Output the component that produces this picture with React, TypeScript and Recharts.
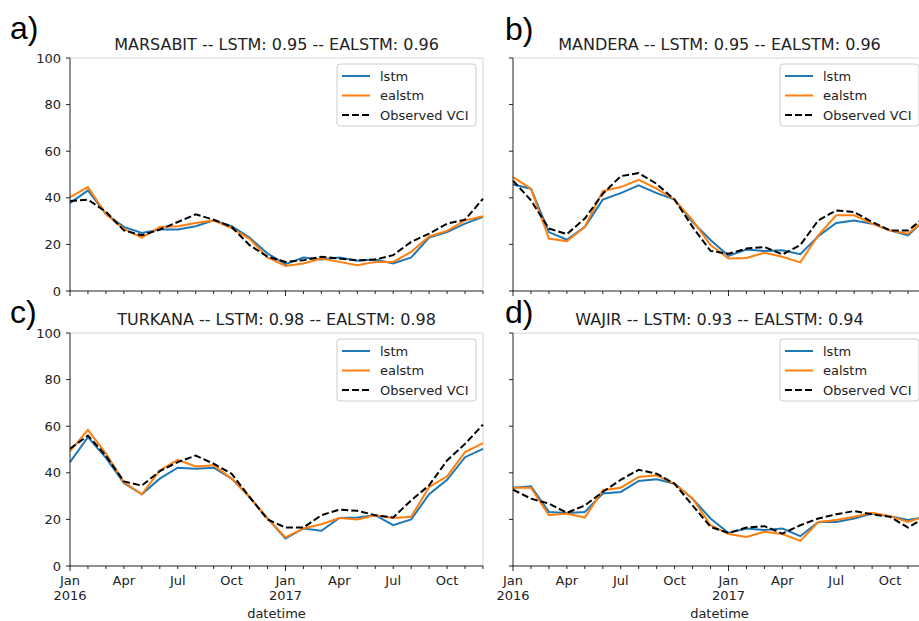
import { LineChart, Line, XAxis, YAxis, ReferenceLine } from 'recharts';

const MONTHS = ['Jan', 'Feb', 'Mar', 'Apr', 'May', 'Jun', 'Jul', 'Aug', 'Sep', 'Oct', 'Nov', 'Dec'];
const YEARS = [2016, 2017];
const QUARTER_MONTHS = ['Jan', 'Apr', 'Jul', 'Oct'];
const Y_TICKS = [0, 20, 40, 60, 80, 100];

const DATES = YEARS.flatMap((year, yi) =>
  MONTHS.map((month, mi) => ({ idx: yi * 12 + mi, month, year }))
);

// MARSABIT
const marsabitLstm = [37.7, 43.2, 33, 27.5, 24.9, 26.4, 26.4, 27.8, 30.3, 27.8, 22.9, 16.1, 11.5, 14.4, 13.5, 14.4, 13.0, 13.5, 11.8, 14.4, 22.9, 25.3, 28.9, 31.8];
const marsabitEalstm = [40.3, 44.6, 33, 26.6, 22.9, 27.5, 27.8, 29.2, 30.3, 27, 22.4, 14.4, 10.7, 11.8, 13.9, 12.5, 11.1, 12.5, 12.5, 16.8, 23.4, 25.8, 30.3, 32.1];
const marsabitObs = [38.6, 39.2, 34, 26, 23.9, 26.4, 29.6, 32.9, 30.6, 27.5, 19.7, 14.7, 12.5, 13.2, 14.7, 13.9, 13.2, 13.5, 15.4, 21.1, 24.6, 28.9, 30.6, 39.6];

// MANDERA
const manderaLstm = [45.7, 43.9, 25.3, 22, 27.5, 39.2, 42, 45.3, 42, 39.2, 29.6, 21.9, 15.1, 17.8, 17.2, 17.5, 15.8, 23.5, 29.2, 30.3, 28.9, 26, 23.9, 31];
const manderaEalstm = [48.9, 43.9, 22.5, 21.4, 27.5, 42.9, 44.6, 47.7, 43.9, 39.2, 30.3, 19.7, 14, 14.2, 16.4, 14.7, 12.3, 23.9, 32.5, 32.5, 28.9, 26, 24.6, 31];
const manderaObs = [47.4, 38.9, 26.8, 24.4, 31.1, 41.7, 49.3, 50.6, 46, 39.2, 27.5, 17.2, 16, 18.2, 18.9, 15.7, 19.7, 30.3, 34.6, 33.9, 29.6, 26, 26, 32];

// TURKANA
const turkanaLstm = [44.6, 55.3, 46.4, 35.6, 30.8, 37.5, 42.2, 41.7, 42.2, 37.5, 29.6, 20.4, 11.8, 16.1, 15.1, 20.6, 20.8, 21.8, 17.5, 20, 30.8, 37, 46.7, 50.3];
const turkanaEalstm = [49.3, 58.4, 48.2, 36, 30.8, 41, 45.6, 42.7, 43.2, 37.5, 29.6, 20.4, 12.3, 16.1, 17.9, 20.6, 20, 21.8, 20.6, 21.1, 33.9, 38.5, 48.9, 52.7];
const turkanaObs = [50.3, 56, 47.3, 36.3, 34.5, 40.7, 44.6, 47.4, 43.9, 39.6, 29.6, 20, 16.5, 16.5, 21.8, 24.2, 23.7, 21.8, 20.8, 28.2, 34.6, 45.3, 52.4, 60.7];

// WAJIR
const wajirLstm = [33.6, 34.2, 23.2, 22.8, 23.2, 31.1, 31.8, 36.5, 37.2, 35.3, 28.9, 20.4, 14.2, 16.1, 15.4, 16.1, 12.8, 18.9, 18.9, 20.4, 22.5, 21.4, 19.7, 21];
const wajirEalstm = [33.6, 33.6, 21.8, 22.5, 20.8, 32.5, 33.6, 38.2, 38.9, 35.3, 28.9, 17.5, 13.7, 12.5, 14.7, 13.7, 10.8, 18.9, 19.7, 21.1, 22.8, 21.4, 18.9, 21.5];
const wajirObs = [32.8, 28.9, 26.8, 22.8, 26, 31.8, 37, 41.3, 39.6, 35.3, 26, 16.8, 14.2, 16.5, 17.1, 13.9, 17.5, 20.4, 22.2, 23.6, 22.2, 21.1, 16.5, 21];

const COLORS = {
  lstm: '#1f77b4',
  ealstm: '#ff7f0e',
  obs: '#000000',
  axis: '#222222',
  frame: '#d6d6d6',
  text: '#222222',
};

const FONT = '"DejaVu Sans", sans-serif';
const PLOT_W = 413;
const PLOT_H = 233;
const Y_AXIS_W = 60;
const M_TOP = 10;
const M_RIGHT = 12;
const X_AXIS_H = 56;

const buildRows = (lstm: number[], ealstm: number[], obs: number[]) =>
  DATES.map((d, i) => ({ idx: d.idx, lstm: lstm[i], ealstm: ealstm[i], obs: obs[i] }));

const PANELS = [
  { letter: 'a)', letterX: 10, letterY: 39, name: 'MARSABIT', lstmScore: '0.95', ealstmScore: '0.96', left: 70, top: 58, bottom: false, yLabels: true, rows: buildRows(marsabitLstm, marsabitEalstm, marsabitObs) },
  { letter: 'b)', letterX: 505, letterY: 40, name: 'MANDERA', lstmScore: '0.95', ealstmScore: '0.96', left: 513, top: 58, bottom: false, yLabels: false, rows: buildRows(manderaLstm, manderaEalstm, manderaObs) },
  { letter: 'c)', letterX: 10, letterY: 323, name: 'TURKANA', lstmScore: '0.98', ealstmScore: '0.98', left: 70, top: 333, bottom: true, yLabels: true, rows: buildRows(turkanaLstm, turkanaEalstm, turkanaObs) },
  { letter: 'd)', letterX: 505, letterY: 323, name: 'WAJIR', lstmScore: '0.93', ealstmScore: '0.94', left: 513, top: 333, bottom: true, yLabels: false, rows: buildRows(wajirLstm, wajirEalstm, wajirObs) },
];

function MonthTick(props: any) {
  const { x, y, payload, showLabels } = props;
  const d = DATES[payload.value];
  if (!d) return null;
  const isJan = d.month === 'Jan';
  const isQuarter = QUARTER_MONTHS.includes(d.month);
  return (
    <g>
      <line x1={x} x2={x} y1={isJan ? y - 1 : y} y2={y + (isJan ? 5 : 3)} stroke={COLORS.axis} strokeWidth={1} />
      {showLabels && isQuarter && (
        <text textAnchor="middle" fontSize={13} fill={COLORS.text} fontFamily={FONT}>
          <tspan x={x} y={y + 19}>{d.month}</tspan>
          {isJan && <tspan x={x} y={y + 34}>{d.year}</tspan>}
        </text>
      )}
    </g>
  );
}

function Panel({ panel }: { panel: (typeof PANELS)[number] }) {
  return (
    <div style={{ position: 'absolute', left: panel.left - Y_AXIS_W, top: panel.top - M_TOP }}>
      <LineChart
        width={Y_AXIS_W + PLOT_W + M_RIGHT}
        height={M_TOP + PLOT_H + X_AXIS_H}
        data={panel.rows}
        margin={{ top: M_TOP, right: M_RIGHT, bottom: 0, left: 0 }}
      >
        <XAxis
          dataKey="idx"
          type="number"
          domain={[0, DATES.length - 1]}
          ticks={DATES.map((d) => d.idx)}
          interval={0}
          height={X_AXIS_H}
          tickSize={0}
          tickMargin={0}
          tickLine={false}
          axisLine={{ stroke: COLORS.axis }}
          tick={<MonthTick showLabels={panel.bottom} />}
        />
        <YAxis
          type="number"
          domain={[0, 100]}
          ticks={Y_TICKS}
          width={Y_AXIS_W}
          tickSize={4}
          tickMargin={5}
          axisLine={{ stroke: COLORS.axis }}
          tickLine={{ stroke: COLORS.axis }}
          tick={panel.yLabels ? { fontSize: 13, fill: COLORS.text, fontFamily: FONT } : { fontSize: 13, fill: 'none' }}
        />
        <ReferenceLine y={100} stroke={COLORS.frame} strokeWidth={1} />
        <ReferenceLine x={DATES.length - 1} stroke={COLORS.frame} strokeWidth={1} />
        <Line type="linear" dataKey="lstm" stroke={COLORS.lstm} strokeWidth={2} dot={false} isAnimationActive={false} />
        <Line type="linear" dataKey="ealstm" stroke={COLORS.ealstm} strokeWidth={2} dot={false} isAnimationActive={false} />
        <Line type="linear" dataKey="obs" stroke={COLORS.obs} strokeWidth={2} strokeDasharray="7 3" dot={false} isAnimationActive={false} />
      </LineChart>
    </div>
  );
}

function Overlay() {
  return (
    <svg width={919} height={621} style={{ position: 'absolute', left: 0, top: 0, pointerEvents: 'none' }}>
      {PANELS.map((p) => {
        const cx = p.left + PLOT_W / 2;
        const lx = p.left + PLOT_W - 146;
        const ly = p.top + 6;
        return (
          <g key={p.name}>
            <text x={p.letterX} y={p.letterY} fontSize={32} fontFamily='"Liberation Sans", Arial, sans-serif' fill="#000">
              {p.letter}
            </text>
            <text x={cx} y={p.top - 8} textAnchor="middle" fontSize={16} fontFamily={FONT} fill={COLORS.text}>
              {`${p.name} -- LSTM: ${p.lstmScore} -- EALSTM: ${p.ealstmScore}`}
            </text>
            {p.bottom && (
              <text x={cx} y={p.top + PLOT_H + 52} textAnchor="middle" fontSize={13} fontFamily={FONT} fill={COLORS.text}>
                datetime
              </text>
            )}
            <rect x={lx} y={ly} width={139} height={62} rx={3} fill="#ffffff" fillOpacity={0.8} stroke="#cccccc" />
            {[
              { label: 'lstm', color: COLORS.lstm, dash: undefined },
              { label: 'ealstm', color: COLORS.ealstm, dash: undefined },
              { label: 'Observed VCI', color: COLORS.obs, dash: '7 3' },
            ].map((e, i) => (
              <g key={e.label}>
                <line x1={lx + 5} x2={lx + 33} y1={ly + 12 + i * 19.5} y2={ly + 12 + i * 19.5} stroke={e.color} strokeWidth={2} strokeDasharray={e.dash} />
                <text x={lx + 43} y={ly + 12 + i * 19.5} dy="0.36em" fontSize={13} fontFamily={FONT} fill={COLORS.text}>
                  {e.label}
                </text>
              </g>
            ))}
          </g>
        );
      })}
    </svg>
  );
}

export default function App() {
  return (
    <div style={{ position: 'absolute', left: 0, top: 0, width: 919, height: 621, overflow: 'hidden', background: '#fff' }}>
      {PANELS.map((p) => (
        <Panel key={p.name} panel={p} />
      ))}
      <Overlay />
    </div>
  );
}
